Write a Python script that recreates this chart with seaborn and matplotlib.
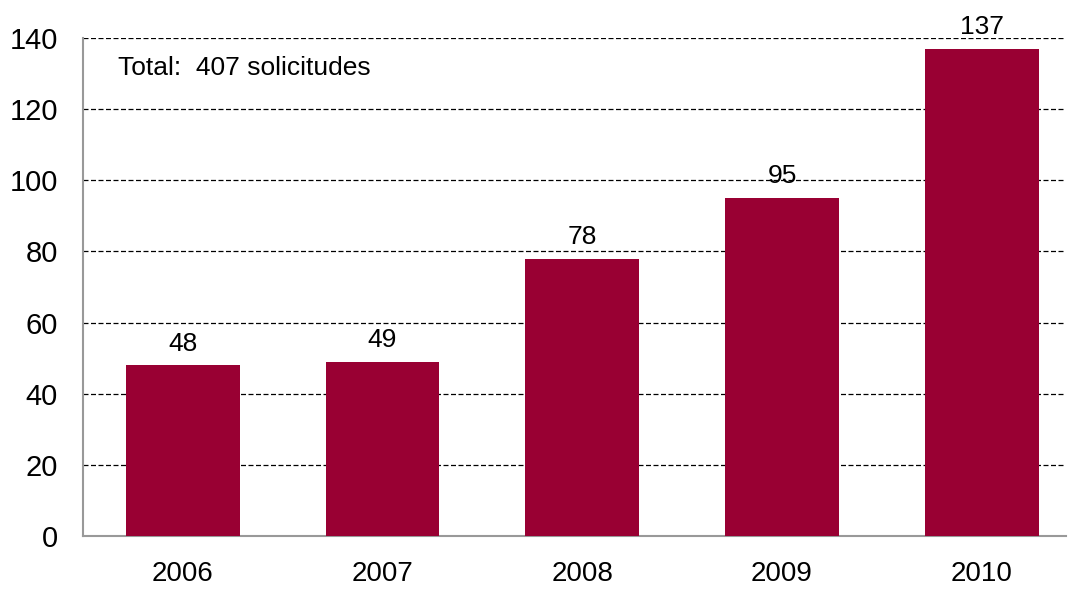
import pandas as pd
import matplotlib
matplotlib.use("Agg")
import matplotlib.pyplot as plt
import seaborn as sns

# datos
anios = ["2006", "2007", "2008", "2009", "2010"]
solicitudes = [48, 49, 78, 95, 137]
total_txt = "Total:  407 solicitudes"

df = pd.DataFrame({"anio": anios, "n": solicitudes})

sns.set_style("white")
plt.rcParams["font.family"] = ["Liberation Sans", "DejaVu Sans"]
plt.rcParams["text.color"] = "black"

fig = plt.figure(figsize=(10.68, 5.90), dpi=100)
ax = fig.add_axes([0.0777, 0.0915, 0.920, 0.844])

sns.barplot(data=df, x="anio", y="n", color="#990033", saturation=1, width=0.57,
            linewidth=0, ax=ax, zorder=3)

ax.set_ylim(0, 140)
ax.set_yticks(range(0, 141, 20))
ax.set_xlim(-0.5, 4.42)
ax.yaxis.grid(True, linestyle=(0, (4, 2)), color="black", linewidth=0.9, zorder=0)
ax.set_axisbelow(True)

for s in ["top", "right"]:
    ax.spines[s].set_visible(False)
for s in ["left", "bottom"]:
    ax.spines[s].set_color("#999999")
    ax.spines[s].set_linewidth(1.5)

ax.tick_params(axis="y", length=0, labelsize=21, colors="black", pad=18)
ax.tick_params(axis="x", length=0, labelsize=20, colors="black", pad=18)
ax.set_xlabel("")
ax.set_ylabel("")

ax.bar_label(ax.containers[0], fontsize=19, padding=7, color="black")

ax.text(0.036, 0.94, total_txt, transform=ax.transAxes, fontsize=19, va="center", ha="left")

fig.savefig("out.png", dpi=100)
